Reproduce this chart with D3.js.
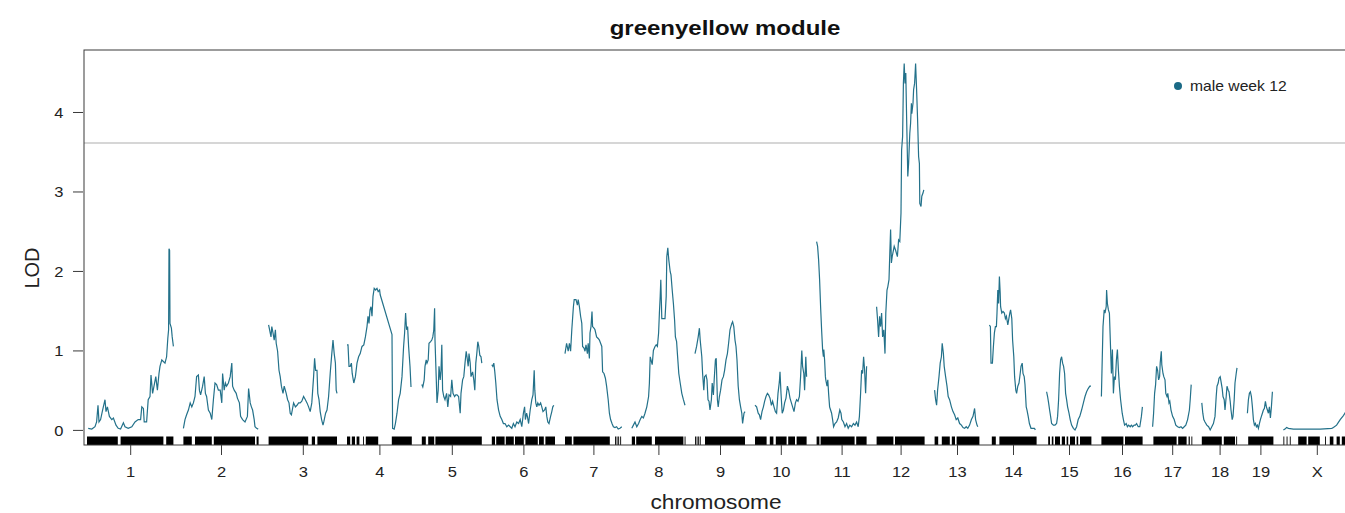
<!DOCTYPE html>
<html>
<head>
<meta charset="utf-8">
<script src="https://cdn.jsdelivr.net/npm/d3@7"></script>
<style>
  html, body { margin: 0; padding: 0; background: #fff; }
  svg { display: block; font-family: "Liberation Sans", Arial, Helvetica, sans-serif; }
</style>
</head>
<body>
<svg id="chart" width="1345" height="513"></svg>
<script>
// ---------------- data ----------------
const titleText = "greenyellow module";
const xLabel = "chromosome";
const yLabel = "LOD";
const legendLabel = "male week 12";
const chrNames = ["1","2","3","4","5","6","7","8","9","10","11","12","13","14","15","16","17","18","19","X"];
const chrLengths = [216,188,171,162,150,158,142,133,125,129,125,120,112,118,112,103,98,89,65,167]; // Mb
const chrGap = 25; // Mb between chromosomes
const yTicks = [0,1,2,3,4];
const threshold = 3.61;

// LOD profiles: [position (Mb), LOD]
const lodChr1 = [[3,0.02],[12,0.01],[20,0.04],[24,0.1],[27.5,0.31],[30,0.1],[34,0.13],[39,0.25],[45,0.38],[47.5,0.23],[51,0.29],[56,0.17],[62,0.13],[66,0.15],[72.5,0.06],[78,0.02],[84,0.01],[91,0.09],[95,0.04],[103,0.02],[112,0.04],[120,0.1],[128,0.13],[134,0.13],[137,0.29],[141,0.27],[143,0.1],[149,0.1],[153,0.38],[157.5,0.42],[160,0.69],[164,0.46],[167.5,0.55],[172,0.67],[176,0.5],[180,0.71],[182.5,0.8],[187,0.88],[195,0.84],[199,0.92],[202,1.15],[204,1.26],[205,2.28],[206.5,2.26],[207.5,1.34],[211,1.28],[213,1.17],[216,1.05]];
const lodChr2 = [[0,0.02],[4,0.13],[8,0.19],[12.5,0.25],[17,0.34],[21,0.29],[25,0.34],[29,0.42],[33,0.67],[37.5,0.69],[40,0.5],[43,0.44],[48,0.55],[52,0.67],[55,0.46],[58,0.42],[62.5,0.25],[67,0.21],[71,0.13],[75,0.38],[79,0.59],[83,0.57],[87.5,0.5],[92,0.5],[96,0.34],[98,0.71],[102,0.5],[105,0.59],[108,0.55],[112.5,0.59],[117,0.67],[121,0.84],[123,0.55],[127,0.5],[132,0.46],[135,0.4],[140,0.34],[143,0.17],[148,0.13],[154,0.1],[160,0.17],[163,0.52],[167,0.34],[170,0.29],[173,0.25],[177,0.13],[179,0.04],[183,0.02],[187,0.01]];
const lodChr3 = [[0,1.32],[2.5,1.26],[6,1.17],[8,1.3],[11,1.22],[14,1.13],[17,1.26],[19,1.09],[22.5,0.99],[26,0.75],[29,0.67],[32,0.55],[36,0.46],[39,0.55],[44,0.46],[47.5,0.38],[51,0.34],[54,0.21],[57,0.19],[62.5,0.34],[67,0.29],[71,0.31],[75,0.34],[79,0.34],[83,0.36],[87.5,0.42],[92,0.38],[96,0.34],[100,0.29],[104,0.23],[108,0.34],[112.5,0.67],[115,0.9],[117.5,0.75],[121,0.75],[123,0.46],[126,0.38],[129,0.23],[132.5,0.13],[136,0.06],[138,0.1],[142.5,0.21],[146,0.25],[150,0.42],[154,0.71],[158,0.96],[161,1.13],[164,0.96],[167,0.84],[169,0.5],[171,0.46]];
const lodChr4 = [[0,1.07],[2.5,1.07],[5,0.8],[8,0.8],[11,0.84],[13,0.71],[17,0.59],[21,0.67],[25,0.84],[29,0.92],[33,0.96],[37.5,1.05],[42,1.07],[46,1.17],[50,1.3],[52.5,1.43],[55,1.34],[57.5,1.51],[60,1.55],[62.5,1.43],[65,1.68],[68,1.78],[71.5,1.76],[75,1.78],[78,1.74],[81.5,1.76],[83,1.7],[112.5,1.2],[114,0.02],[118,0.01],[121,0.08],[125,0.21],[129,0.38],[133,0.46],[137.5,0.67],[141.5,1.05],[144,1.22],[146.5,1.47],[149,1.26],[151.5,1.3],[154,1.05],[157.5,0.8],[160,0.54]];
const lodChr5 = [[0,0.57],[2.5,0.54],[6,0.63],[8,0.8],[11,0.88],[13,0.84],[16,0.88],[18,1.09],[22,1.11],[25,1.13],[27.5,1.17],[30,1.26],[32,1.53],[33,1.13],[36,0.67],[38,0.34],[41,0.5],[43,0.8],[46,0.63],[48,0.75],[50,1.07],[52,0.5],[55,0.42],[58,0.38],[62,0.46],[65,0.29],[68,0.44],[72,0.42],[75,0.63],[78,0.46],[82,0.42],[85,0.44],[88,0.44],[92,0.42],[96,0.21],[98,0.46],[102,0.63],[105,0.67],[108,0.84],[111,0.99],[113,0.92],[116,0.8],[118,0.96],[121,0.84],[123,0.67],[127,0.73],[130,0.63],[132.5,0.5],[135,0.84],[137.5,0.96],[140,1.11],[142.5,1.05],[145,0.94],[148,0.92],[150,0.84]];
const lodChr6 = [[0,0.82],[2.5,0.8],[5,0.84],[7.5,0.73],[10,0.59],[13,0.38],[17,0.25],[21,0.17],[25,0.13],[29,0.08],[33,0.08],[37.5,0.04],[42,0.06],[46,0.04],[50,0.02],[54,0.08],[58,0.04],[62.5,0.1],[67,0.08],[71,0.13],[75,0.04],[79,0.21],[82,0.29],[84,0.13],[87,0.21],[89,0.17],[92,0.08],[96,0.25],[100,0.38],[103,0.44],[106,0.75],[107.5,0.5],[110,0.34],[112.5,0.29],[115,0.34],[118,0.31],[122,0.34],[125,0.29],[128,0.23],[132,0.25],[135,0.29],[137.5,0.17],[140,0.1],[143,0.08],[147,0.17],[150,0.23],[152.5,0.29],[155,0.31]];
const lodChr7 = [[0,0.96],[4,1.09],[8,0.99],[11,1.09],[14,0.99],[17,1.26],[21,1.55],[23,1.64],[27.5,1.64],[31,1.57],[33,1.64],[36,1.55],[39,1.43],[42,1.34],[44,1.05],[47.5,1.03],[50,0.99],[52.5,1.07],[56,0.96],[58,1.09],[61,0.9],[62.5,1.22],[65,1.3],[67.5,1.49],[69,1.3],[72.5,1.28],[75,1.26],[79,1.17],[83,1.15],[86,1.13],[89,1.09],[92,1.05],[94,0.73],[97.5,0.71],[101,0.65],[104,0.55],[108,0.38],[111,0.21],[114,0.13],[117.5,0.08],[121,0.04],[125,0.03],[129,0.04],[133,0.01],[137.5,0.02],[142,0.04]];
const lodChr8 = [[0,0.02],[4,0.06],[8,0.1],[12.5,0.04],[17,0.08],[21,0.13],[25,0.17],[29,0.15],[33,0.21],[37.5,0.29],[42,0.42],[44,0.59],[46,0.92],[48,0.88],[51,0.82],[54,1.0],[58,1.05],[61,1.07],[64,1.05],[67,1.22],[69,1.47],[71,1.68],[72.5,1.89],[75,1.4],[79,1.4],[83,1.4],[86,1.68],[87.5,2.18],[90,2.29],[92.5,2.14],[96,1.99],[98,1.95],[101,1.76],[104,1.59],[107,1.38],[109,1.17],[112,1.11],[114,0.96],[117.5,0.71],[121,0.59],[125,0.46],[129,0.38],[133,0.31]];
const lodChr9 = [[0,0.96],[4,1.05],[8,1.17],[11,1.28],[13,1.13],[17,0.92],[19,0.71],[22,0.5],[24,0.67],[27.5,0.69],[30,0.63],[32.5,0.38],[35,0.36],[37.5,0.25],[41,0.38],[43,0.59],[46,0.44],[48,0.63],[51,0.88],[53,0.9],[56,0.38],[58,0.29],[61,0.42],[64,0.5],[67.5,0.63],[71,0.67],[74,0.75],[77.5,0.88],[81,0.96],[84,1.09],[87.5,1.26],[92,1.34],[94,1.36],[97,1.3],[100,1.13],[102.5,1.05],[105,0.88],[108,0.55],[111,0.38],[114,0.29],[117,0.21],[119,0.08],[122.5,0.21],[125,0.23]];
const lodChr10 = [[0,0.31],[4,0.29],[8,0.21],[11,0.19],[14,0.13],[17.5,0.23],[21,0.29],[24,0.36],[27.5,0.42],[31,0.46],[34,0.44],[37.5,0.4],[41,0.31],[44,0.36],[47.5,0.29],[51,0.23],[54,0.21],[57.5,0.46],[61,0.61],[62.5,0.73],[65,0.46],[68,0.21],[71,0.25],[74,0.34],[77.5,0.4],[81,0.55],[84,0.5],[87.5,0.4],[91,0.34],[94,0.29],[97.5,0.23],[101,0.34],[104,0.38],[107.5,0.36],[111,0.42],[114,0.67],[117,1.0],[119,0.8],[122,0.71],[124,0.5],[127,0.92],[129,0.67]];
const lodChr11 = [[0,2.37],[2.5,2.31],[5,2.14],[7.5,1.89],[10,1.55],[12.5,1.26],[15,1.01],[17,0.92],[18,1.01],[20,0.88],[22,0.67],[23,0.63],[26,0.55],[28,0.63],[30,0.46],[32.5,0.29],[35,0.25],[37.5,0.21],[40,0.13],[42.5,0.04],[46,0.08],[50,0.1],[54,0.15],[58,0.25],[61,0.21],[63,0.13],[67,0.1],[71,0.04],[75,0.08],[79,0.02],[83,0.06],[87.5,0.04],[92,0.08],[96,0.06],[100,0.1],[104,0.04],[107,0.17],[110,0.46],[112.5,0.75],[115,0.71],[117.5,0.92],[120,0.75],[122.5,0.46],[125,0.8]];
const lodChr12 = [[0,1.55],[2.5,1.38],[5,1.17],[7.5,1.43],[10,1.3],[12.5,1.47],[15,1.17],[18,1.26],[21,0.96],[23,1.47],[26,1.76],[28,1.8],[31,1.89],[33,2.22],[35,2.52],[37,2.1],[39,2.18],[42,2.26],[44,2.31],[47.5,2.26],[52,2.18],[55,2.39],[58,2.37],[61,2.73],[62.5,3.52],[65,3.69],[67,4.36],[69,4.61],[71,4.36],[73,4.49],[75,3.94],[77,3.44],[78,3.19],[80,3.35],[82,3.61],[83,3.73],[85,3.86],[87,4.11],[88,3.98],[91,4.11],[92.5,4.28],[95,4.36],[97.5,4.61],[100,4.28],[102.5,3.9],[105,3.44],[107,3.35],[108,2.85],[111,2.81],[113,2.94],[116,2.98],[118,3.02]];
const lodChr13 = [[0,0.5],[2.5,0.38],[5,0.31],[7.5,0.5],[11,0.67],[14,0.84],[17,0.92],[19,1.09],[22,0.96],[24,0.8],[27.5,0.67],[31,0.55],[34,0.42],[37.5,0.38],[42,0.29],[46,0.23],[50,0.19],[54,0.13],[58,0.15],[62.5,0.08],[67,0.06],[71,0.03],[75,0.02],[79,0.04],[83,0.02],[87.5,0.06],[92,0.13],[96,0.17],[100,0.27],[102.5,0.13],[106,0.06],[108,0.04]];
const lodChr14 = [[0,1.32],[2.5,1.3],[4,0.84],[7.5,0.84],[10,1.05],[12.5,1.22],[15,1.3],[17.5,1.3],[19,1.47],[21,1.76],[23,1.59],[25,1.93],[27,1.72],[28,1.55],[31,1.47],[34,1.49],[37.5,1.47],[40,1.4],[42.5,1.43],[46,1.32],[48,1.38],[51,1.47],[53,1.51],[56,1.4],[58,1.13],[61,0.92],[63,0.67],[66,0.5],[68,0.46],[71,0.55],[74,0.59],[77,0.71],[79,0.8],[82,0.84],[84,0.71],[87,0.67],[89,0.57],[92,0.29],[94,0.25],[97,0.17],[100,0.08],[104,0.02],[108,0.02],[112.5,0.02],[115,0.0]];
const lodChr15 = [[0,0.48],[2.5,0.42],[5,0.34],[7.5,0.25],[10,0.17],[12.5,0.08],[17,0.06],[21,0.06],[25,0.08],[27.5,0.17],[30,0.38],[32.5,0.71],[35,0.88],[37.5,0.92],[40,0.84],[42.5,0.8],[45,0.71],[47.5,0.46],[50,0.38],[52.5,0.29],[56,0.21],[59,0.13],[62.5,0.06],[67,0.02],[71,0.0],[75,0.04],[79,0.13],[83,0.17],[87.5,0.25],[92,0.34],[96,0.42],[100,0.48],[104,0.52],[108,0.55],[111,0.55]];
const lodChr16 = [[0,0.42],[1.7,0.8],[4,1.3],[7,1.51],[9,1.47],[12,1.55],[13,1.76],[15,1.59],[17.5,1.51],[20,1.47],[22.5,1.09],[25,0.71],[27.5,1.01],[30,0.46],[32.5,0.67],[35,0.63],[37.5,0.88],[40,1.01],[42.5,0.75],[45,0.55],[48,0.38],[52,0.21],[55,0.13],[58,0.06],[62,0.08],[65,0.04],[68,0.06],[72,0.04],[75,0.06],[78,0.04],[82,0.06],[85,0.06],[88,0.08],[92,0.04],[96,0.04],[100,0.17],[102.5,0.29]];
const lodChr17 = [[0,0.04],[2.5,0.21],[5,0.46],[7.5,0.57],[10,0.8],[12.5,0.75],[15,0.63],[17.5,0.67],[19,0.84],[21.7,0.99],[23,0.82],[26,0.71],[28,0.67],[31,0.63],[33,0.46],[36,0.42],[38,0.46],[41,0.34],[43,0.36],[46,0.25],[50,0.17],[54,0.13],[58,0.06],[62.5,0.04],[67,0.03],[71,0.04],[75,0.02],[79,0.04],[83,0.06],[87.5,0.13],[92,0.25],[94,0.38],[96.5,0.57]];
const lodChr18 = [[0,0.34],[2.5,0.21],[5,0.13],[8,0.1],[12.5,0.06],[17,0.04],[21,0.0],[25,0.04],[29,0.08],[33,0.17],[36,0.42],[38,0.55],[41,0.59],[43,0.65],[46,0.67],[48,0.61],[51,0.52],[53,0.42],[56,0.38],[58,0.25],[61,0.42],[63,0.55],[66,0.5],[68,0.48],[71,0.36],[73,0.25],[76,0.13],[78,0.17],[81,0.38],[83,0.59],[86,0.71],[88,0.78]];
const lodChr19 = [[0,0.21],[2.5,0.38],[5,0.46],[7.5,0.48],[10,0.42],[12.5,0.29],[15,0.13],[17.5,0.06],[20,0.08],[22.5,0.04],[25,0.06],[27.5,0.02],[30,0.08],[32.5,0.13],[35,0.17],[37.5,0.21],[40,0.25],[42.5,0.27],[45,0.36],[47.5,0.29],[50,0.25],[52.5,0.21],[55,0.29],[57.5,0.15],[60,0.29],[62.5,0.48]];
const lodChrX = [[0,0.0],[4,0.01],[8,0.03],[12.5,0.02],[25,0.01],[58,0.01],[92,0.01],[121,0.02],[125,0.03],[133,0.06],[142,0.13],[150,0.18],[154,0.21],[158,0.25]];

// genotyped marker spans for the rug: [start, end] Mb
const rugChr1 = [[0,77],[84,191],[198,216]];
const rugChr2 = [[0,21],[29,71],[76,179],[183,188]];
const rugChr3 = [[0,99],[108,116],[122,171]];
const rugChr4 = [[0,8],[12,20],[24,31],[40,42],[47,78],[112,162]];
const rugChr5 = [[0,10],[16,31],[34,150]];
const rugChr6 = [[0,8],[11,32],[35,55],[58,80],[84,115],[118,130],[134,158]];
const rugChr7 = [[0,17],[21,112],[125,126],[129,130],[133,134],[138,140]];
const rugChr8 = [[0,8],[11,50],[58,129],[132,133]];
const rugChr9 = [[0,1],[4,5],[8,9],[12,14],[25,125]];
const rugChr10 = [[0,29],[37,46],[52,79],[83,100],[104,129]];
const rugChr11 = [[0,7],[10,95],[99,125]];
const rugChr12 = [[0,42],[46,120]];
const rugChr13 = [[0,9],[18,38],[43,51],[55,112]];
const rugChr14 = [[6,16],[25,118]];
const rugChr15 = [[4,8.5],[13,17],[21,33.5],[38,46],[50,54],[58.5,71],[75,79],[83.5,112]];
const rugChr16 = [[0,55],[59,103]];
const rugChr17 = [[2,60],[64,85],[90,93],[97,98]];
const rugChr18 = [[0,50],[55,83],[86,87]];
const rugChr19 = [[2,65]];
const rugChrX = [[0,1],[8,9],[16,17],[37,58],[62,91],[104,105],[116,125],[133,141],[146,154]];

const lodByChr = [lodChr1,lodChr2,lodChr3,lodChr4,lodChr5,lodChr6,lodChr7,lodChr8,lodChr9,lodChr10,lodChr11,lodChr12,lodChr13,lodChr14,lodChr15,lodChr16,lodChr17,lodChr18,lodChr19,lodChrX];
const rugByChr = [rugChr1,rugChr2,rugChr3,rugChr4,rugChr5,rugChr6,rugChr7,rugChr8,rugChr9,rugChr10,rugChr11,rugChr12,rugChr13,rugChr14,rugChr15,rugChr16,rugChr17,rugChr18,rugChr19,rugChrX];

// ---------------- layout ----------------
const frame = {left: 84, top: 50, right: 1362, bottom: 445};
const pxPerMb = 0.4;
const x0 = 87;
const lineColor = "#23718a";
const fontFam = '"Liberation Sans", Arial, Helvetica, sans-serif';

const offsets = [];
let acc = 0;
chrLengths.forEach((len, i) => { offsets.push(acc); acc += len + (i < chrLengths.length - 1 ? chrGap : 0); });
const total = acc;

const x = d3.scaleLinear().domain([0, total]).range([x0, x0 + total * pxPerMb]);
const y = d3.scaleLinear().domain([-0.19, 4.78]).range([frame.bottom, frame.top]);

const svg = d3.select("#chart");

svg.append("defs").append("clipPath").attr("id", "plotclip")
  .append("rect").attr("x", frame.left).attr("y", frame.top)
  .attr("width", frame.right - frame.left).attr("height", frame.bottom - frame.top);

const plot = svg.append("g").attr("clip-path", "url(#plotclip)");

// threshold line
plot.append("line")
  .attr("x1", frame.left).attr("x2", frame.right)
  .attr("y1", y(threshold)).attr("y2", y(threshold))
  .attr("stroke", "#c9c9c9").attr("stroke-width", 1.6);

// rug
const rugTop = 436.5;
const rugData = [];
rugByChr.forEach((segs, i) => segs.forEach(s => rugData.push({chr: i, a: s[0], b: s[1]})));
plot.append("g").selectAll("rect").data(rugData).join("rect")
  .attr("x", d => x(offsets[d.chr] + d.a))
  .attr("width", d => Math.max(0.9, x(offsets[d.chr] + d.b) - x(offsets[d.chr] + d.a)))
  .attr("y", rugTop).attr("height", frame.bottom - rugTop)
  .attr("fill", "#000");

// LOD curves
const line = d3.line().x(d => x(d.pos)).y(d => y(d.lod));
lodByChr.forEach((pts, i) => {
  const data = pts.map(p => ({pos: offsets[i] + p[0], lod: p[1]}));
  plot.append("path").datum(data)
    .attr("d", line)
    .attr("fill", "none")
    .attr("stroke", lineColor)
    .attr("stroke-width", 1.2)
    .attr("stroke-linejoin", "miter");
});

// frame
svg.append("rect")
  .attr("x", frame.left).attr("y", frame.top)
  .attr("width", frame.right - frame.left).attr("height", frame.bottom - frame.top)
  .attr("fill", "none").attr("stroke", "#3a3a3a").attr("stroke-width", 1);

// x axis
const centers = chrLengths.map((len, i) => offsets[i] + len / 2);
const xAxis = d3.axisBottom(x).tickValues(centers)
  .tickFormat((d, i) => chrNames[i]).tickSize(10).tickSizeOuter(0).tickPadding(8);
const gx = svg.append("g").attr("transform", `translate(0,${frame.bottom})`).call(xAxis);
gx.select(".domain").remove();
gx.selectAll(".tick line").attr("stroke", "#3a3a3a");
gx.selectAll(".tick text")
  .attr("font-family", fontFam).attr("font-size", 15).attr("fill", "#222")
  .attr("y", 0).attr("dy", 0)
  .attr("transform", "translate(0,32) scale(1.1,1)");

// y axis
const yAxis = d3.axisLeft(y).tickValues(yTicks).tickFormat(d3.format("d"))
  .tickSize(10).tickSizeOuter(0).tickPadding(0);
const gy = svg.append("g").attr("transform", `translate(${frame.left - 1},0)`).call(yAxis);
gy.select(".domain").remove();
gy.selectAll(".tick line").attr("stroke", "#3a3a3a");
gy.selectAll(".tick text")
  .attr("font-family", fontFam).attr("font-size", 15).attr("fill", "#222")
  .attr("x", 0).attr("dy", "0.35em")
  .attr("transform", "translate(-19.5,0) scale(1.1,1)");

// title
svg.append("text")
  .attr("transform", "translate(725,35) scale(1.2,1)")
  .attr("text-anchor", "middle")
  .attr("font-family", fontFam).attr("font-size", 20).attr("font-weight", "bold")
  .attr("fill", "#111").text(titleText);

// axis titles
svg.append("text")
  .attr("transform", "translate(716,509) scale(1.08,1)")
  .attr("text-anchor", "middle")
  .attr("font-family", fontFam).attr("font-size", 21).attr("fill", "#222")
  .text(xLabel);
svg.append("text")
  .attr("transform", "translate(39,268) rotate(-90)")
  .attr("text-anchor", "middle")
  .attr("font-family", fontFam).attr("font-size", 20).attr("fill", "#222")
  .text(yLabel);

// legend
svg.append("circle").attr("cx", 1178).attr("cy", 86).attr("r", 4).attr("fill", "#1b6a86");
svg.append("text")
  .attr("transform", "translate(1190,91) scale(1.12,1)")
  .attr("font-family", fontFam).attr("font-size", 14).attr("fill", "#222")
  .text(legendLabel);
</script>
</body>
</html>
